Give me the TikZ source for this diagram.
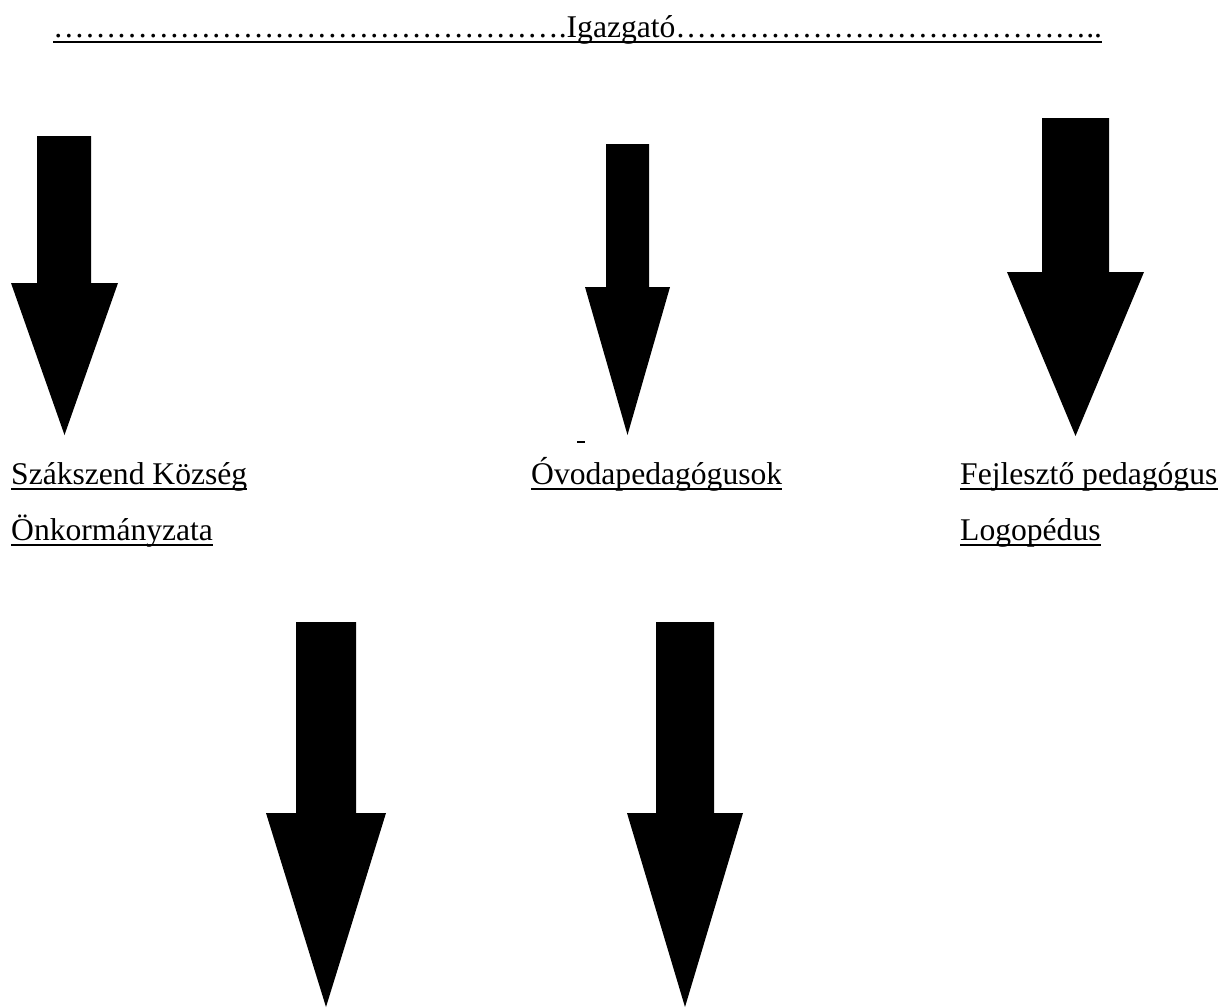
\documentclass[tikz,border=0pt]{standalone}
\usepackage{fontspec}
\setmainfont{Liberation Serif}
\usetikzlibrary{positioning}
\tikzset{%
    entry/.style={anchor=base west, inner sep=0pt, font=\fontsize{31.6}{38}\selectfont},
    underline/.style={draw, line width=1.7pt},
    block/.style={fill=black}
}
% a row of ellipses
\newcommand{\dotrun}[1]{\foreach \k in {1,...,#1}{…}}
% underline a named text node
\newcommand{\ulnode}[1]{\draw[underline] ([yshift=-5pt]#1.base west) -- ([yshift=-5pt]#1.base east);}
% block arrow pointing down: shaft left, shaft right, top, head left, head right, head top, tip
\newcommand{\blockdown}[7]{%
    \fill[block] (#1,#3) -- (#2,#3) -- (#2,#6) -- (#5,#6) -- ({(#4+#5)/2},#7) -- (#4,#6) -- (#1,#6) -- cycle;}

\begin{document}
\begin{tikzpicture}[x=1pt, y=-1pt]
    \useasboundingbox (0,0) rectangle (1218,1007);

    \node[entry] (head) at (53,37) {\dotrun{16}.Igazgató\dotrun{13}..};
    \ulnode{head}

    \blockdown{37}{91}{136}{11}{118}{283}{435}
    \blockdown{606}{649}{144}{585}{670}{287}{435}
    \blockdown{1042}{1109}{118}{1007}{1144}{272}{436}
    \draw[underline] (577,442) -- (585,442);

    \node[entry] (szak) at (11,484) {Szákszend Község\ };
    \node[entry] (onk) at (11,540) {Önkormányzata};
    \node[entry] (ovoda) at (531,484) {Óvodapedagógusok};
    \node[entry] (fejl) at (960,484) {Fejlesztő pedagógus};
    \node[entry] (logo) at (960,540) {Logopédus};
    \foreach \n in {szak,onk,ovoda,fejl,logo}{\ulnode{\n}}

    \blockdown{296}{356}{622}{266}{386}{813}{1007}
    \blockdown{656}{714}{622}{627}{743}{813}{1007}
\end{tikzpicture}
\end{document}
